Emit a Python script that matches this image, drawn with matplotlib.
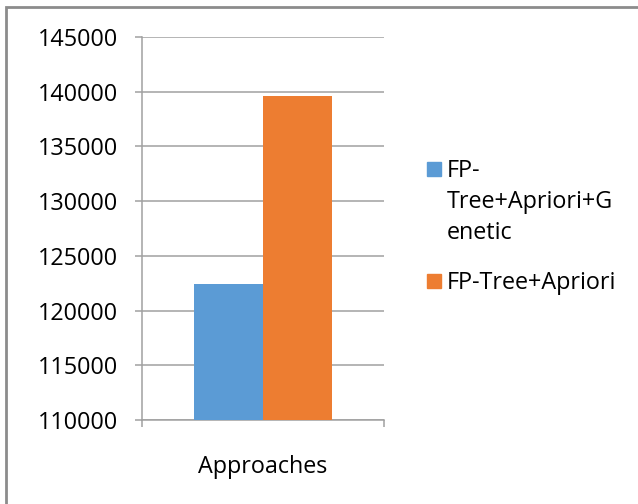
import matplotlib.pyplot as plt
from matplotlib.patches import Rectangle
from matplotlib.ticker import MultipleLocator

plt.rcParams['font.family'] = ['Open Sans', 'DejaVu Sans']

category = "Approaches"
series = ["FP-\nTree+Apriori+G\nenetic", "FP-Tree+Apriori"]
values = [122400, 139600]
colors = ["#5B9BD5", "#ED7D31"]

grid_c = "#A0A0A0"
fs = 16.8

fig = plt.figure(figsize=(6.38, 5.04), dpi=100)
ax = fig.add_axes([142 / 638, 1 - 420 / 504, 242 / 638, 383 / 504])

w = 0.285
n = len(values)
for i, (v, c) in enumerate(zip(values, colors)):
    off = (i - (n - 1) / 2) * w
    ax.bar(off, v - 110000, bottom=110000, width=w, color=c, zorder=3)

ax.set_xlim(-0.5, 0.5)
ax.set_ylim(110000, 145000)
ax.yaxis.set_major_locator(MultipleLocator(5000))
ax.grid(axis='y', color=grid_c, linewidth=1.1, zorder=0)

for s in ['top', 'right']:
    ax.spines[s].set_visible(False)
for s in ['left', 'bottom']:
    ax.spines[s].set_color(grid_c)
    ax.spines[s].set_linewidth(1.1)

ax.tick_params(axis='y', length=5, width=1.1, color=grid_c, pad=12, labelsize=fs)
ax.set_xticks([-0.5, 0.5])
ax.set_xticklabels([])
ax.tick_params(axis='x', which='major', length=5, width=1.1, color=grid_c)
ax.set_xticks([0], minor=True)
ax.set_xticklabels([category], minor=True)
ax.tick_params(axis='x', which='minor', length=0, pad=25, labelsize=fs)

# legend drawn by hand so the square sits on the first text line
sq = 14
for lab, c, top in zip(series, colors, [162, 274]):
    fig.patches.append(Rectangle((427 / 638, 1 - (top + sq) / 504), sq / 638, sq / 504,
                                 transform=fig.transFigure, color=c))
    fig.text(447 / 638, 1 - (top - 3) / 504, lab, fontsize=fs, va='top', ha='left',
             linespacing=1.4)

# outer frame
fig.patches.append(Rectangle((6 / 638, -0.1), 1.2, 1 - 7 / 504 + 0.1,
                             transform=fig.transFigure, fill=False,
                             edgecolor="#8C8C8C", linewidth=2))

fig.savefig("out.png", dpi=100)
